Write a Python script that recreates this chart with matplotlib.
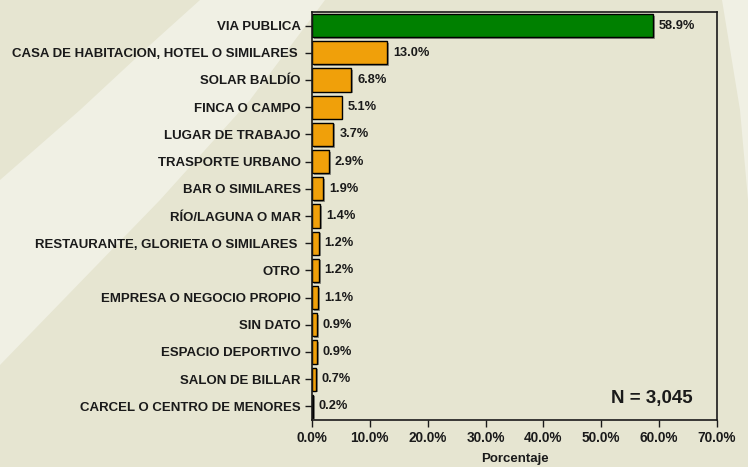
import numpy as np
import matplotlib
matplotlib.use("Agg")
from matplotlib import pyplot as plt
from matplotlib import font_manager
from matplotlib.patches import Polygon

# data
categories = ["VIA PUBLICA", "CASA DE HABITACION, HOTEL O SIMILARES ", "SOLAR BALDÍO",
              "FINCA O CAMPO", "LUGAR DE TRABAJO", "TRASPORTE URBANO", "BAR O SIMILARES",
              "RÍO/LAGUNA O MAR", "RESTAURANTE, GLORIETA O SIMILARES ", "OTRO",
              "EMPRESA O NEGOCIO PROPIO", "SIN DATO", "ESPACIO DEPORTIVO",
              "SALON DE BILLAR", "CARCEL O CENTRO DE MENORES"]
values = [58.9, 13.0, 6.8, 5.1, 3.7, 2.9, 1.9, 1.4, 1.2, 1.2, 1.1, 0.9, 0.9, 0.7, 0.2]
xticks = [0, 10, 20, 30, 40, 50, 60, 70]
n_text = "N = 3,045"

bg = "#e6e5d1"
light = "#f0f0e4"
ink = '#1a1a1a'
plt.rcParams['font.family'] = ['Liberation Sans', 'DejaVu Sans']
plt.rcParams['font.weight'] = 'bold'

names = {f.name for f in font_manager.fontManager.ttflist}
if 'Liberation Sans Narrow' in names:
    narrow = ['Liberation Sans Narrow', 'Liberation Sans']
    n_size = 15
else:
    narrow = ['Liberation Sans', 'DejaVu Sans']
    n_size = 13.5

fig = plt.figure(figsize=(7.48, 4.67), dpi=100, facecolor=bg)

# decorative light bands in background
W, H = 748.0, 467.0
def fpoly(pts):
    return Polygon([(x / W, 1 - y / H) for x, y in pts], closed=True,
                   transform=fig.transFigure, facecolor=light, edgecolor='none', zorder=-10)
fig.patches.append(fpoly([(200, 0), (325, 0), (250, 100), (160, 200), (0, 365),
                          (0, 180), (80, 110), (150, 45)]))
fig.patches.append(fpoly([(722, 0), (748, 0), (748, 200), (740, 110)]))

ax = fig.add_axes([312 / W, 1 - 420 / H, 405 / W, 408 / H])
ax.set_facecolor('none')
ax.set_zorder(5)

y = np.arange(len(values))
colors = ['#008000'] + ['#f0a00a'] * (len(values) - 1)
# shadow
ax.barh(y + 0.06, values, height=0.85, left=0.3, color='#8f8f85', edgecolor='none', zorder=1)
ax.barh(y, values, height=0.85, color=colors, edgecolor='black', linewidth=1.0, zorder=2)

for yi, v in zip(y, values):
    ax.text(v + 1.0, yi, f"{v:.1f}%", va='center', ha='left', fontsize=9.2,
            fontweight='bold', color=ink)

ax.set_ylim(len(values) - 0.5, -0.5)
ax.set_xlim(0, 70)
ax.set_yticks(y)
ax.set_yticklabels(categories, fontsize=9.5, fontweight='bold', color=ink)
ax.set_xticks(xticks)
ax.set_xticklabels([f"{t:.1f}%" for t in xticks], fontsize=9.8, fontweight='bold',
                   family=narrow, color=ink)
ax.tick_params(axis='both', direction='out', length=5, width=1, color=ink)
ax.tick_params(axis='x', pad=3)
ax.tick_params(axis='y', pad=3)
for s in ax.spines.values():
    s.set_linewidth(1.2)
    s.set_color(ink)

ax.set_xlabel("Porcentaje", fontsize=9.5, fontweight='bold', family=narrow, labelpad=6,
              color=ink)
ax.text(0.84, 0.052, n_text, transform=ax.transAxes, ha='center', va='center',
        fontsize=n_size, fontweight='bold', family=narrow, color=ink)

fig.savefig("out.png", dpi=100, facecolor=bg)
